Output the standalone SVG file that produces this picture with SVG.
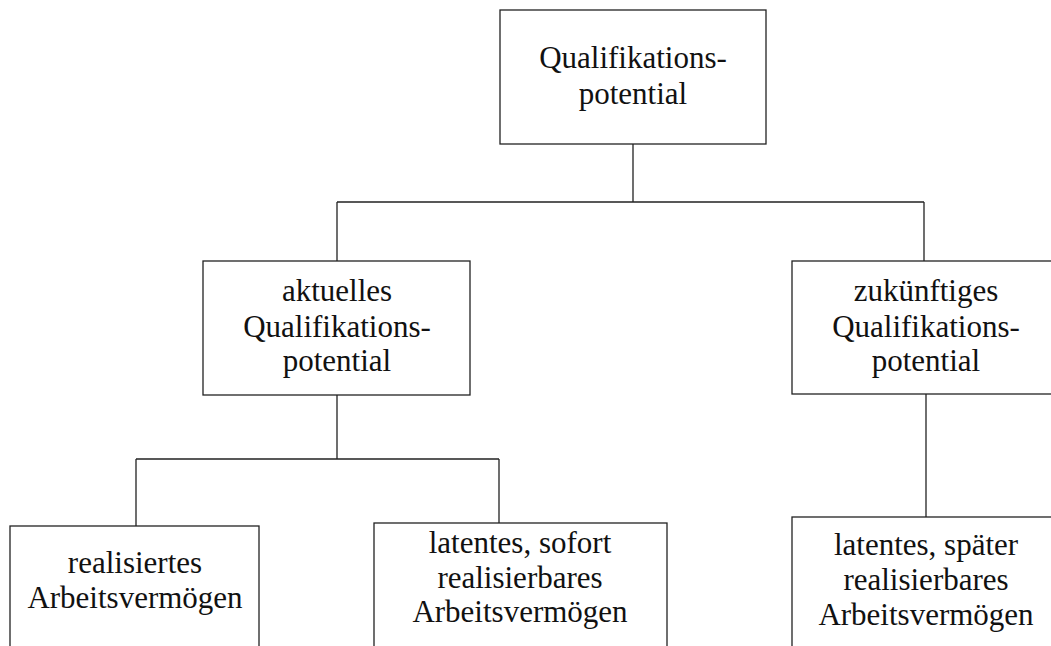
<svg xmlns="http://www.w3.org/2000/svg" width="1051" height="646" viewBox="0 0 1051 646">
<style>
.box{fill:#fff;stroke:#222;stroke-width:1.3}
.con{fill:none;stroke:#222;stroke-width:1.3}
text{font-family:"Liberation Serif","Times New Roman",serif;font-size:31px;fill:#111;text-anchor:middle}
</style>
<rect x="0" y="0" width="1051" height="646" fill="#fff"/>
<g id="connectors">
<path class="con" d="M633,144V202M337,202H924M337,202V261M924,202V261"/>
<path class="con" d="M337,395V459M136,459H499M136,459V526M499,459V523"/>
<path class="con" d="M926,394V517"/>
</g>
<g id="n-top">
<rect class="box" x="500" y="10" width="266" height="134"/>
<text x="633" y="68">Qualifikations-</text>
<text x="633" y="104">potential</text>
</g>
<g id="n-aktuell">
<rect class="box" x="203" y="261" width="267" height="134"/>
<text x="337" y="301">aktuelles</text>
<text x="337" y="337">Qualifikations-</text>
<text x="337" y="371">potential</text>
</g>
<g id="n-zukunft">
<rect class="box" x="792" y="261" width="270" height="133"/>
<text x="926" y="301">zukünftiges</text>
<text x="926" y="337">Qualifikations-</text>
<text x="926" y="371">potential</text>
</g>
<g id="n-realisiert">
<rect class="box" x="10" y="526" width="249" height="135"/>
<text x="135" y="573">realisiertes</text>
<text x="135" y="608">Arbeitsvermögen</text>
</g>
<g id="n-sofort">
<rect class="box" x="374" y="523" width="293" height="138"/>
<text x="520" y="553">latentes, sofort</text>
<text x="520" y="588">realisierbares</text>
<text x="520" y="622">Arbeitsvermögen</text>
</g>
<g id="n-spaeter">
<rect class="box" x="792" y="517" width="270" height="144"/>
<text x="926" y="555">latentes, später</text>
<text x="926" y="590">realisierbares</text>
<text x="926" y="625">Arbeitsvermögen</text>
</g>
</svg>
